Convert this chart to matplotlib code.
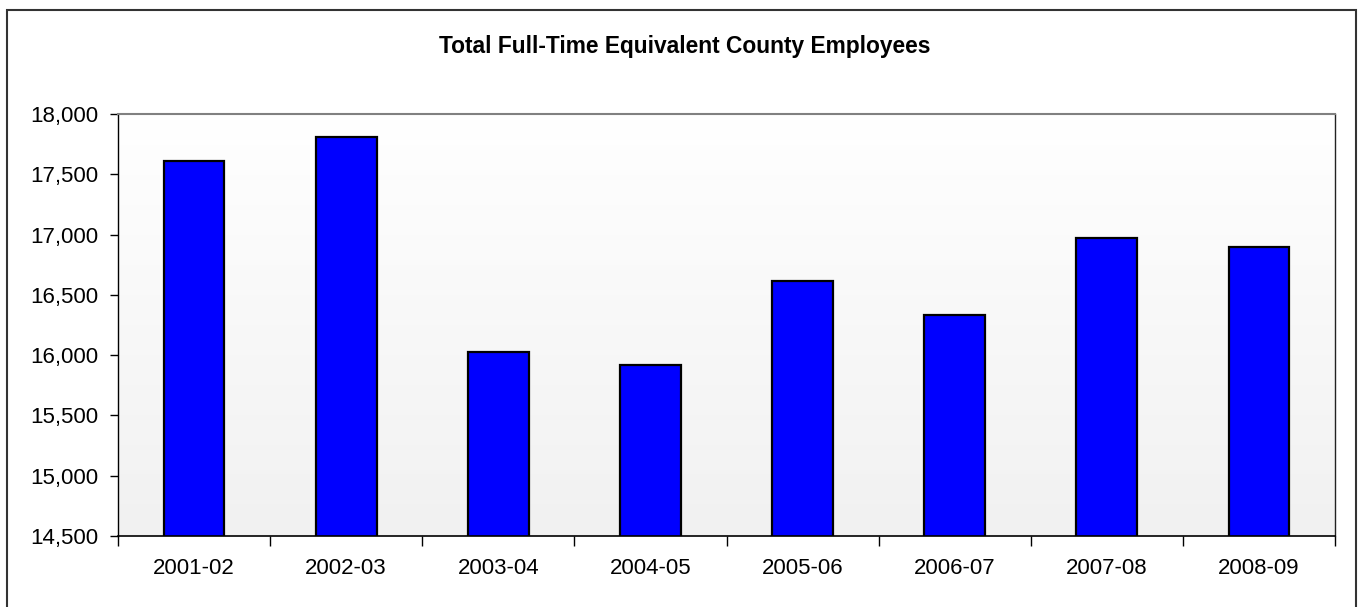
import numpy as np
import matplotlib
matplotlib.use("Agg")
import matplotlib.pyplot as plt
from matplotlib.patches import Rectangle
from matplotlib.ticker import FuncFormatter, FixedLocator

categories = ["2001-02", "2002-03", "2003-04", "2004-05", "2005-06", "2006-07", "2007-08", "2008-09"]
employees = [17614, 17807, 16028, 15915, 16613, 16331, 16974, 16900]
y_ticks = [14500, 15000, 15500, 16000, 16500, 17000, 17500, 18000]
title = "Total Full-Time Equivalent County Employees"

plt.rcParams['font.family'] = ['Liberation Sans', 'DejaVu Sans']

W, H = 1359, 607
fig = plt.figure(figsize=(W / 100, H / 100), dpi=100)
fig.patch.set_facecolor("white")

left, right, top, bottom = 118, 1335, 114, 536
ax = fig.add_axes([left / W, (H - bottom) / H, (right - left) / W, (bottom - top) / H])

# gradient background
grad = np.linspace(1.0, 0.945, 256).reshape(-1, 1)
ax.imshow(np.dstack([grad, grad, grad]), extent=[0, 1, 0, 1], transform=ax.transAxes,
          aspect="auto", zorder=0, interpolation="bicubic")

x = np.arange(len(categories))
ax.bar(x, employees, width=0.4, color="#0000ff", edgecolor="black", linewidth=1.6, zorder=2)

ax.set_xlim(-0.5, len(categories) - 0.5)
ax.set_ylim(14500, 18000)
ax.set_yticks(y_ticks)
ax.yaxis.set_major_formatter(FuncFormatter(lambda v, p: f"{int(v):,}"))
ax.tick_params(axis="y", direction="out", length=6, width=1, labelsize=16, pad=8, colors="black")

ax.set_xticks(x)
ax.set_xticklabels(categories)
ax.tick_params(axis="x", which="major", length=0, labelsize=16, pad=16)
ax.xaxis.set_minor_locator(FixedLocator(np.arange(-0.5, len(categories), 1.0)))
ax.tick_params(axis="x", which="minor", direction="out", length=7, width=1, colors="black")

ax.spines["left"].set_color("black")
ax.spines["left"].set_linewidth(1.0)
ax.spines["bottom"].set_color("black")
ax.spines["bottom"].set_linewidth(1.2)
ax.spines["top"].set_color("#808080")
ax.spines["top"].set_linewidth(1.5)
ax.spines["right"].set_color("#222222")
ax.spines["right"].set_linewidth(1.0)

fig.text((440 + 929) / 2 / W, 1 - 46 / H, title, ha="center", va="center",
         fontsize=16.4, fontweight="bold")

# outer border (top, left, right)
fig.add_artist(Rectangle((6.5 / W, -0.05), (1355.5 - 6.5) / W, 1.05 - 9.5 / H,
                         transform=fig.transFigure, fill=False, edgecolor="#333333",
                         linewidth=1.5))

fig.savefig("out.png", dpi=100)
